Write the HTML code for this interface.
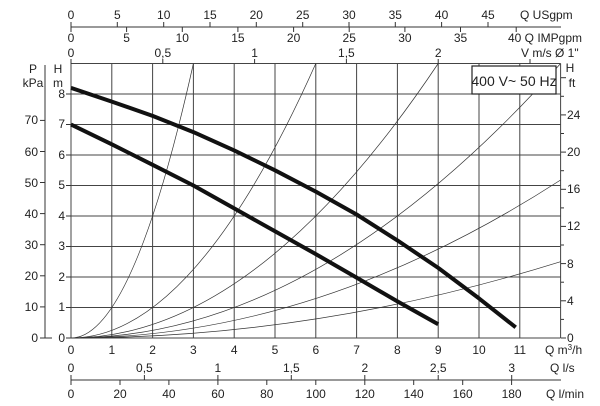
<!DOCTYPE html>
<html><head><meta charset="utf-8"><style>
html,body{margin:0;padding:0;background:#fff;}
svg{display:block;font-family:"Liberation Sans",Arial,sans-serif;}
text{fill:#222;font-size:12px;}
</style></head><body>
<svg width="600" height="406" viewBox="0 0 600 406" xmlns="http://www.w3.org/2000/svg">
<g stroke="#444" stroke-width="1">
<line x1="71" y1="63.5" x2="71" y2="338"/><line x1="111.8" y1="63.5" x2="111.8" y2="338"/><line x1="152.6" y1="63.5" x2="152.6" y2="338"/><line x1="193.4" y1="63.5" x2="193.4" y2="338"/><line x1="234.2" y1="63.5" x2="234.2" y2="338"/><line x1="275" y1="63.5" x2="275" y2="338"/><line x1="315.8" y1="63.5" x2="315.8" y2="338"/><line x1="356.6" y1="63.5" x2="356.6" y2="338"/><line x1="397.4" y1="63.5" x2="397.4" y2="338"/><line x1="438.2" y1="63.5" x2="438.2" y2="338"/><line x1="479" y1="63.5" x2="479" y2="338"/><line x1="519.8" y1="63.5" x2="519.8" y2="338"/><line x1="560.6" y1="63.5" x2="560.6" y2="338"/>
<line x1="71" y1="338" x2="560.6" y2="338"/><line x1="71" y1="307.5" x2="560.6" y2="307.5"/><line x1="71" y1="277" x2="560.6" y2="277"/><line x1="71" y1="246.5" x2="560.6" y2="246.5"/><line x1="71" y1="216" x2="560.6" y2="216"/><line x1="71" y1="185.5" x2="560.6" y2="185.5"/><line x1="71" y1="155" x2="560.6" y2="155"/><line x1="71" y1="124.5" x2="560.6" y2="124.5"/><line x1="71" y1="94" x2="560.6" y2="94"/><line x1="71" y1="63.5" x2="560.6" y2="63.5"/>
</g>
<g fill="none" stroke="#333" stroke-width="0.7">
<path d="M71,338 Q132.2,338 193.4,63.5"/>
<path d="M71,338 Q193.4,338 315.8,63.5"/>
<path d="M71,338 Q254.6,338 438.2,63.5"/>
<path d="M71,338 Q315.8,338 560.6,63.5"/>
<path d="M71,338 Q315.8,338 560.6,180"/>
<path d="M71,338 Q315.8,338 560.6,261.7"/>
</g>
<g fill="none" stroke="#111" stroke-width="4" stroke-linejoin="round">
<polyline points="71,124.5 111.8,144.3 152.6,164.8 193.4,185.5 234.2,208.4 275,231.3 315.8,254.1 356.6,277.6 397.4,301.4 438.2,324.3"/>
<polyline points="71,87.9 111.8,101.6 152.6,115.9 193.4,132.1 234.2,150.4 275,170.3 315.8,191.6 356.6,214.5 397.4,240.4 438.2,267.9 479,298.4 515.7,327.3"/>
</g>
<rect x="472" y="66" width="84" height="28" fill="#fff" stroke="#222" stroke-width="1.2"/>
<text x="514" y="86" text-anchor="middle" style="font-size:14px">400 V~ 50 Hz</text>
<g stroke="#333" stroke-width="1">
<line x1="45" y1="65" x2="45" y2="338"/><line x1="45" y1="338" x2="52" y2="338"/>
<line x1="40" y1="338" x2="45" y2="338"/><line x1="40" y1="306.9" x2="45" y2="306.9"/><line x1="40" y1="275.8" x2="45" y2="275.8"/><line x1="40" y1="244.7" x2="45" y2="244.7"/><line x1="40" y1="213.6" x2="45" y2="213.6"/><line x1="40" y1="182.5" x2="45" y2="182.5"/><line x1="40" y1="151.5" x2="45" y2="151.5"/><line x1="40" y1="120.4" x2="45" y2="120.4"/>
<line x1="66" y1="338" x2="71" y2="338"/><line x1="66" y1="307.5" x2="71" y2="307.5"/><line x1="66" y1="277" x2="71" y2="277"/><line x1="66" y1="246.5" x2="71" y2="246.5"/><line x1="66" y1="216" x2="71" y2="216"/><line x1="66" y1="185.5" x2="71" y2="185.5"/><line x1="66" y1="155" x2="71" y2="155"/><line x1="66" y1="124.5" x2="71" y2="124.5"/><line x1="66" y1="94" x2="71" y2="94"/>
<line x1="561" y1="338" x2="566" y2="338"/><line x1="561" y1="319.4" x2="564" y2="319.4"/><line x1="561" y1="300.8" x2="566" y2="300.8"/><line x1="561" y1="282.2" x2="564" y2="282.2"/><line x1="561" y1="263.6" x2="566" y2="263.6"/><line x1="561" y1="245" x2="564" y2="245"/><line x1="561" y1="226.4" x2="566" y2="226.4"/><line x1="561" y1="207.9" x2="564" y2="207.9"/><line x1="561" y1="189.3" x2="566" y2="189.3"/><line x1="561" y1="170.7" x2="564" y2="170.7"/><line x1="561" y1="152.1" x2="566" y2="152.1"/><line x1="561" y1="133.5" x2="564" y2="133.5"/><line x1="561" y1="114.9" x2="566" y2="114.9"/><line x1="561" y1="96.3" x2="564" y2="96.3"/><line x1="561" y1="77.7" x2="566" y2="77.7"/>
<line x1="71" y1="27" x2="561" y2="27"/>
<line x1="71" y1="22" x2="71" y2="27"/><line x1="117.3" y1="22" x2="117.3" y2="27"/><line x1="163.7" y1="22" x2="163.7" y2="27"/><line x1="210" y1="22" x2="210" y2="27"/><line x1="256.3" y1="22" x2="256.3" y2="27"/><line x1="302.7" y1="22" x2="302.7" y2="27"/><line x1="349" y1="22" x2="349" y2="27"/><line x1="395.3" y1="22" x2="395.3" y2="27"/><line x1="441.6" y1="22" x2="441.6" y2="27"/><line x1="488" y1="22" x2="488" y2="27"/>
<line x1="71" y1="27" x2="71" y2="32"/><line x1="126.6" y1="27" x2="126.6" y2="32"/><line x1="182.3" y1="27" x2="182.3" y2="32"/><line x1="237.9" y1="27" x2="237.9" y2="32"/><line x1="293.6" y1="27" x2="293.6" y2="32"/><line x1="349.2" y1="27" x2="349.2" y2="32"/><line x1="404.9" y1="27" x2="404.9" y2="32"/><line x1="460.5" y1="27" x2="460.5" y2="32"/><line x1="516.2" y1="27" x2="516.2" y2="32"/>
<line x1="71" y1="59" x2="71" y2="64"/><line x1="162.8" y1="59" x2="162.8" y2="64"/><line x1="254.6" y1="59" x2="254.6" y2="64"/><line x1="346.4" y1="59" x2="346.4" y2="64"/><line x1="438.2" y1="59" x2="438.2" y2="64"/><line x1="530" y1="59" x2="530" y2="64"/>
<line x1="71" y1="380" x2="561" y2="380"/>
<line x1="71" y1="375" x2="71" y2="380"/><line x1="144.4" y1="375" x2="144.4" y2="380"/><line x1="217.9" y1="375" x2="217.9" y2="380"/><line x1="291.3" y1="375" x2="291.3" y2="380"/><line x1="364.8" y1="375" x2="364.8" y2="380"/><line x1="438.2" y1="375" x2="438.2" y2="380"/><line x1="511.7" y1="375" x2="511.7" y2="380"/>
<line x1="71" y1="380" x2="71" y2="385"/><line x1="120" y1="380" x2="120" y2="385"/><line x1="168.9" y1="380" x2="168.9" y2="385"/><line x1="217.9" y1="380" x2="217.9" y2="385"/><line x1="266.8" y1="380" x2="266.8" y2="385"/><line x1="315.8" y1="380" x2="315.8" y2="385"/><line x1="364.8" y1="380" x2="364.8" y2="385"/><line x1="413.7" y1="380" x2="413.7" y2="385"/><line x1="462.7" y1="380" x2="462.7" y2="385"/><line x1="511.6" y1="380" x2="511.6" y2="385"/>
</g>
<g text-anchor="middle">
<text x="33" y="73">P</text><text x="33" y="87">kPa</text><text x="58" y="73">H</text><text x="58" y="87">m</text>
<text x="570" y="72">H</text><text x="572" y="87">ft</text>
</g>
<g text-anchor="end">
<text x="38" y="342">0</text><text x="38" y="311">10</text><text x="38" y="280">20</text><text x="38" y="249">30</text><text x="38" y="218">40</text><text x="38" y="187">50</text><text x="38" y="156">60</text><text x="38" y="124">70</text>
<text x="65" y="342">0</text><text x="65" y="311">1</text><text x="65" y="281">2</text><text x="65" y="250">3</text><text x="65" y="220">4</text><text x="65" y="189">5</text><text x="65" y="159">6</text><text x="65" y="128">7</text><text x="65" y="98">8</text>
</g>
<g text-anchor="start">
<text x="567" y="342">0</text><text x="567" y="305">4</text><text x="567" y="268">8</text><text x="567" y="230">12</text><text x="567" y="193">16</text><text x="567" y="156">20</text><text x="567" y="119">24</text>
</g>
<g text-anchor="middle">
<text x="71" y="354">0</text><text x="111.8" y="354">1</text><text x="152.6" y="354">2</text><text x="193.4" y="354">3</text><text x="234.2" y="354">4</text><text x="275" y="354">5</text><text x="315.8" y="354">6</text><text x="356.6" y="354">7</text><text x="397.4" y="354">8</text><text x="438.2" y="354">9</text><text x="479" y="354">10</text><text x="519.8" y="354">11</text>
<text x="71" y="372">0</text><text x="144.4" y="372">0,5</text><text x="217.9" y="372">1</text><text x="291.3" y="372">1,5</text><text x="364.8" y="372">2</text><text x="438.2" y="372">2,5</text><text x="511.7" y="372">3</text>
<text x="71" y="398">0</text><text x="120" y="398">20</text><text x="168.9" y="398">40</text><text x="217.9" y="398">60</text><text x="266.8" y="398">80</text><text x="315.8" y="398">100</text><text x="364.8" y="398">120</text><text x="413.7" y="398">140</text><text x="462.7" y="398">160</text><text x="511.6" y="398">180</text>
<text x="71" y="19">0</text><text x="117.3" y="19">5</text><text x="163.7" y="19">10</text><text x="210" y="19">15</text><text x="256.3" y="19">20</text><text x="302.7" y="19">25</text><text x="349" y="19">30</text><text x="395.3" y="19">35</text><text x="441.6" y="19">40</text><text x="488" y="19">45</text>
<text x="71" y="42">0</text><text x="126.6" y="42">5</text><text x="182.3" y="42">10</text><text x="237.9" y="42">15</text><text x="293.6" y="42">20</text><text x="349.2" y="42">25</text><text x="404.9" y="42">30</text><text x="460.5" y="42">35</text>
<text x="71" y="57">0</text><text x="162.8" y="57">0,5</text><text x="254.6" y="57">1</text><text x="346.4" y="57">1,5</text><text x="438.2" y="57">2</text>
</g>
<g text-anchor="start">
<text x="520" y="19">Q USgpm</text>
<text x="508" y="42">40 Q IMPgpm</text>
<text x="521" y="57">V m/s Ø 1"</text>
<text x="545" y="354">Q m<tspan style="font-size:8px" dy="-4">3</tspan><tspan dy="4">/h</tspan></text>
<text x="550" y="372">Q l/s</text>
<text x="546" y="398">Q l/min</text>
</g>
</svg>
</body></html>
